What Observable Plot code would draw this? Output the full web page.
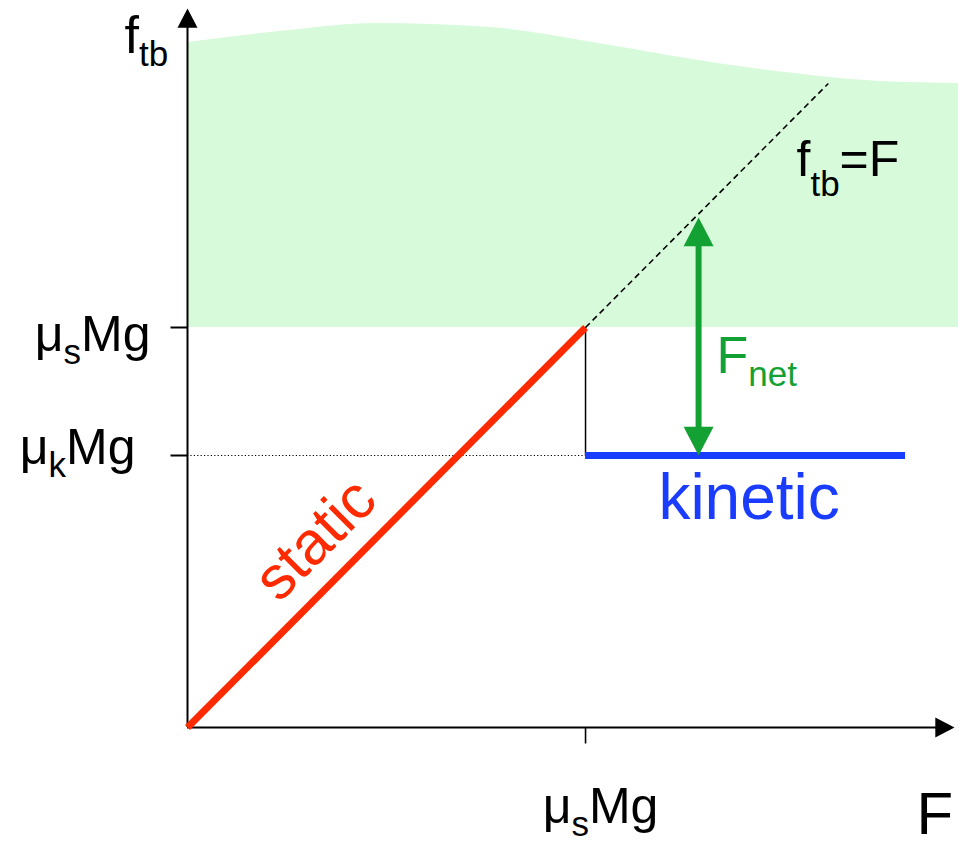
<!DOCTYPE html>
<html>
<head>
<meta charset="utf-8">
<script src="https://cdn.jsdelivr.net/npm/d3@7"></script>
<script src="https://cdn.jsdelivr.net/npm/@observablehq/plot@0.6"></script>
<style>
html, body { margin: 0; padding: 0; background: #fff; overflow: hidden; }
</style>
</head>
<body>
<div id="chart"></div>
<script>
// ---- data (F and f_tb in units of μsMg) ----
const staticSegment = [{F: 0, f: 0}, {F: 1, f: 1}];
const dashedSegment = [{F: 1, f: 1}, {F: 1.61, f: 1.61}];
const kineticLevel = [0.68];
const kineticRange = [1, 1.804];
const shadedBase = 1;
const shadedTop = [
  {F: 0, f: 1.7125}, {F: 0.256, f: 1.7425}, {F: 0.47, f: 1.76},
  {F: 0.761, f: 1.75}, {F: 1.048, f: 1.7075}, {F: 1.332, f: 1.66},
  {F: 1.525, f: 1.635}, {F: 1.739, f: 1.615}, {F: 1.937, f: 1.61}
];
const netArrow = [{F: 1.284, from: 0.68, to: 1.275}];
const axisTip = [{F: 1.927, f: 1.7975}];
const xTicks = [1];
const xTickLabels = ["μ{s}Mg"];
const yTicks = [1, 0.68];
const yTickLabels = ["μ{s}Mg", "μ{k}Mg"];
const xTitle = "F";
const yTitle = "f{tb}";
const annotations = [
  {text: "f{tb}=F", F: 1.53, f: 1.38},
  {text: "F{net}", F: 1.329, f: 0.8875},
  {text: "kinetic", F: 1.183, f: 0.5225},
  {text: "static", F: 0.3216, f: 0.47}
];

// ---- styles ----
const RED = "#ff2a00", BLUE = "#1a3cff", GREEN = "#13a133", SHADE = "#d7fbda";
const FONT = "Liberation Sans, Arial, Helvetica, sans-serif";

// arrow head symbol with its tip at the anchor point; angle 0 = pointing up
function head(angle) {
  return {
    draw(ctx, size) {
      const r = Math.sqrt(size / Math.PI);
      const hw = 1.25 * r, len = 2.4 * r;
      const a = angle * Math.PI / 180, c = Math.cos(a), s = Math.sin(a);
      const pts = [[0, 0], [-hw, len], [hw, len]].map(([x, y]) => [x * c - y * s, x * s + y * c]);
      ctx.moveTo(pts[0][0], pts[0][1]);
      ctx.lineTo(pts[1][0], pts[1][1]);
      ctx.lineTo(pts[2][0], pts[2][1]);
      ctx.closePath();
    }
  };
}
const tickLeft = {draw(ctx, size) { const r = Math.sqrt(size / Math.PI); ctx.moveTo(0, 0); ctx.lineTo(-r, 0); }};
const tickDown = {draw(ctx, size) { const r = Math.sqrt(size / Math.PI); ctx.moveTo(0, 0); ctx.lineTo(0, r); }};

const ann = (t) => annotations.filter(d => d.text === t);

const chart = Plot.plot({
  width: 958,
  height: 847,
  marginLeft: 187,
  marginRight: 0,
  marginTop: 0,
  marginBottom: 120,
  x: {domain: [0, 1.937], axis: null},
  y: {domain: [0, 1.8175], axis: null},
  style: {fontFamily: FONT, background: "white", overflow: "visible"},
  marks: [
    Plot.areaY(shadedTop, {x: "F", y1: shadedBase, y2: "f", fill: SHADE, curve: "monotone-x"}),
    // axes
    Plot.ruleX(axisTip, {x: 0, y1: "f", y2: 0, stroke: "black", strokeWidth: 2, insetTop: 12}),
    Plot.ruleY(axisTip, {y: 0, x1: 0, x2: "F", stroke: "black", strokeWidth: 2, insetRight: 12}),
    Plot.dot(axisTip, {x: 0, y: "f", symbol: head(0), r: 8, fill: "black", stroke: "none"}),
    Plot.dot(axisTip, {x: "F", y: 0, symbol: head(90), r: 8, fill: "black", stroke: "none"}),
    Plot.dot(yTicks, {x: 0, y: d => d, symbol: tickLeft, r: 17, fill: "none", stroke: "black", strokeWidth: 2}),
    Plot.dot(xTicks, {x: d => d, y: 0, symbol: tickDown, r: 16, fill: "none", stroke: "black", strokeWidth: 1.6}),
    // guides
    Plot.ruleY(kineticLevel, {x1: 0, x2: kineticRange[0], stroke: "black", strokeWidth: 1.1, strokeDasharray: "1.2,2.2"}),
    Plot.ruleX([kineticRange[0]], {y1: 1, y2: kineticLevel[0], stroke: "black", strokeWidth: 1.5}),
    Plot.line(dashedSegment, {x: "F", y: "f", stroke: "black", strokeWidth: 1.6, strokeDasharray: "6,4", strokeLinecap: "butt"}),
    // static and kinetic friction
    Plot.line(staticSegment, {x: "F", y: "f", stroke: RED, strokeWidth: 7, strokeLinecap: "butt"}),
    Plot.ruleY(kineticLevel, {x1: kineticRange[0], x2: kineticRange[1], stroke: BLUE, strokeWidth: 7}),
    // net force arrow
    Plot.ruleX(netArrow, {x: "F", y1: "to", y2: "from", stroke: GREEN, strokeWidth: 6, insetTop: 18, insetBottom: 18}),
    Plot.dot(netArrow, {x: "F", y: "to", symbol: head(0), r: 12, fill: GREEN, stroke: "none"}),
    Plot.dot(netArrow, {x: "F", y: "from", symbol: head(180), r: 12, fill: GREEN, stroke: "none"}),
    // tick labels and titles
    Plot.text([yTickLabels[0]], {x: 0, y: yTicks[0], text: d => d, textAnchor: "end", lineAnchor: "bottom", dx: -37, dy: 23, fontSize: 50, fill: "black"}),
    Plot.text([yTickLabels[1]], {x: 0, y: yTicks[1], text: d => d, textAnchor: "end", lineAnchor: "bottom", dx: -52, dy: 8, fontSize: 50, fill: "black"}),
    Plot.text(xTickLabels, {x: (d, i) => xTicks[i], y: 0, text: d => d, textAnchor: "middle", lineAnchor: "bottom", dx: 15, dy: 95, fontSize: 50, fill: "black"}),
    Plot.text(axisTip, {x: 0, y: "f", text: () => yTitle, textAnchor: "start", lineAnchor: "bottom", dx: -63, dy: 44, fontSize: 52, fill: "black"}),
    Plot.text(axisTip, {x: "F", y: 0, text: () => xTitle, textAnchor: "start", lineAnchor: "bottom", dx: -38, dy: 106, fontSize: 60, fill: "black"}),
    // annotations
    Plot.text(ann("f{tb}=F"), {x: "F", y: "f", text: "text", textAnchor: "start", lineAnchor: "bottom", fontSize: 50, fill: "black"}),
    Plot.text(ann("F{net}"), {x: "F", y: "f", text: "text", textAnchor: "start", lineAnchor: "bottom", fontSize: 52, fill: GREEN}),
    Plot.text(ann("kinetic"), {x: "F", y: "f", text: "text", textAnchor: "start", lineAnchor: "bottom", fontSize: 64, fill: BLUE}),
    Plot.text(ann("static"), {x: "F", y: "f", text: "text", textAnchor: "middle", lineAnchor: "middle", rotate: -45, fontSize: 61, fill: RED})
  ]
});

// turn {..} parts of labels into real subscript tspans
const subShift = {"f{tb}=F": 0.4};
d3.select(chart).selectAll("text").each(function () {
  const raw = this.textContent;
  if (!raw.includes("{")) return;
  const fs = parseFloat(getComputedStyle(this).fontSize) || 50;
  const shift = (subShift[raw] ?? 0.26) * fs;
  const parts = [...raw.matchAll(/([^{}]+)|\{([^}]*)\}/g)];
  const el = d3.select(this);
  el.text(null);
  let shifted = false;
  for (const m of parts) {
    const t = el.append("tspan");
    if (m[2] !== undefined) {
      t.text(m[2]).attr("font-size", (0.7 * fs) + "px").attr("dy", shift);
      shifted = true;
    } else {
      t.text(m[1]);
      if (shifted) { t.attr("dy", -shift); shifted = false; }
    }
  }
});

document.getElementById("chart").appendChild(chart);
</script>
</body>
</html>
